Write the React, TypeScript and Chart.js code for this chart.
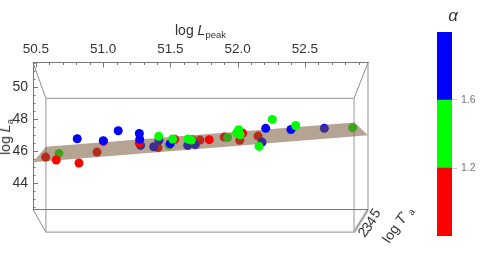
import React, { useEffect, useRef } from "react";
import { Chart, registerables } from "chart.js";

Chart.register(...registerables);

const FONT = '"Liberation Sans", Arial, sans-serif';

const xTickValues = [50.5,50.6,50.7,50.8,50.9,51,51.1,51.2,51.3,51.4,51.5,51.6,51.7,51.8,51.9,52,52.1,52.2,52.3,52.4,52.5,52.6,52.7,52.8,52.9];
const xLabelled = [50.5, 51, 51.5, 52, 52.5];
const yTickValues = [42.5,43,43.5,44,44.5,45,45.5,46,46.5,47,47.5,48,48.5,49,49.5,50,50.5,51,51.5];
const yLabelled = [44, 46, 48, 50];
const depthLabels = ["2", "3", "4", "5"];

const redFront = [[50.651,45.425],[50.82,45.24],[51.269,46.49],[51.532,46.72],[51.789,46.7],[52.038,47.11],[51.002,46.59]];
const redBehind = [[50.572,45.61],[50.954,45.925],[51.408,46.2],[51.663,46.7],[51.72,46.675],[51.901,46.86],[52.016,46.66],[52.152,46.925]];
const greenFront = [[51.413,46.91],[51.517,46.74],[51.631,46.74],[51.656,46.675],[52.008,47.325],[51.993,47.14],[52.018,47.01],[52.159,46.28],[52.258,47.97],[52.432,47.59]];
const greenBehind = [[50.671,45.84],[51.49,46.36],[51.926,46.84],[52.856,47.45]];
const blueFront = [[50.807,46.76],[51.001,46.64],[51.112,47.26],[51.269,47.09],[51.272,46.72],[51.499,46.45],[52.209,47.41],[52.397,47.34]];
const blueBehind = [[51.279,46.34],[51.376,46.26],[51.415,46.66],[51.629,46.34],[51.685,46.39],[52.182,46.55],[52.645,47.41]];

const planeCorners = [[50.478,45.28],[50.574,46.25],[52.87,47.78],[52.97,46.97],[50.478,45.28]];

const xMin = 50.478, xMax = 52.97, yMin = 42.33, yMax = 51.53;
const backL = 50.574, backR = 52.866, backT = 49.28, backB = 40.91;

const backFrame = [[backL,backT],[backR,backT],[backR,backB],[backL,backB],[backL,backT]];
const connectors = [
  [[xMin,yMax],[backL,backT]],
  [[xMax,yMax],[backR,backT]],
  [[xMin,yMin],[backL,backB]],
  [[xMax,yMin],[backR,backB]],
];
const frontBottom = [[xMin,yMin],[xMax,yMin]];
const depthEdgeShade = [[xMax,yMin],[backR,backB]];

const barCategories = ["alpha"];
const alphaBands = [
  { from: 0.8, to: 1.2, color: "#ff0000" },
  { from: 1.2, to: 1.6, color: "#00ff00" },
  { from: 1.6, to: 2.0, color: "#0000ff" },
];
const alphaTicks = [1.2, 1.6];

const toPts = (a: number[][]) => a.map(([x, y]) => ({ x, y }));

const pts = (data: number[][], color: string, order: number) => ({
  type: "scatter" as const,
  data: toPts(data),
  backgroundColor: color,
  borderWidth: 0,
  pointRadius: 4.5,
  order,
  clip: false as const,
});

const wire = (data: number[][], color: string, order: number, width = 1) => ({
  type: "line" as const,
  data: toPts(data),
  borderColor: color,
  borderWidth: width,
  pointRadius: 0,
  fill: false,
  tension: 0,
  order,
  clip: false as const,
});

const inwardTicks = {
  id: "inwardTicks",
  afterDatasetsDraw(chart: any) {
    const { ctx, chartArea, scales } = chart;
    ctx.save();
    ctx.strokeStyle = "#777";
    ctx.lineWidth = 1;
    ctx.beginPath();
    scales.x.ticks.forEach((t: any) => {
      const px = Math.round(scales.x.getPixelForValue(t.value)) + 0.5;
      const len = xLabelled.includes(t.value) ? 5 : 2.5;
      ctx.moveTo(px, chartArea.top);
      ctx.lineTo(px, chartArea.top + len);
    });
    scales.y.ticks.forEach((t: any) => {
      const py = Math.round(scales.y.getPixelForValue(t.value)) + 0.5;
      const len = yLabelled.includes(t.value) ? 5 : 2.5;
      ctx.moveTo(chartArea.left, py);
      ctx.lineTo(chartArea.left + len, py);
    });
    ctx.stroke();
    ctx.restore();
  },
};

const abs = (o: React.CSSProperties): React.CSSProperties => ({
  position: "absolute",
  fontFamily: FONT,
  color: "#333",
  whiteSpace: "nowrap",
  lineHeight: 1,
  ...o,
});

const depthSpots = [[363, 232], [367, 227], [371, 221], [375, 213]];

export default function App() {
  const mainRef = useRef<HTMLCanvasElement>(null);
  const barRef = useRef<HTMLCanvasElement>(null);

  useEffect(() => {
    document.body.style.margin = "0";
    const main = new Chart(mainRef.current!, {
      data: {
        datasets: [
          wire(backFrame, "#a8a8a8", 20, 1.2),
          ...connectors.map((c) => wire(c, "#8c8c8c", 20)),
          wire(depthEdgeShade, "#c8c8c8", 21, 3),
          wire(frontBottom, "#777", 1),
          pts(redBehind, "#ff0000", 12),
          pts(greenBehind, "#00ff00", 11),
          pts(blueBehind, "#0000ff", 10),
          {
            type: "line" as const,
            data: toPts(planeCorners),
            borderWidth: 0,
            pointRadius: 0,
            tension: 0,
            fill: "shape",
            backgroundColor: "rgba(115,83,51,0.53)",
            order: 5,
            clip: false as const,
          },
          pts(redFront, "#ff0000", 4),
          pts(greenFront, "#00ff00", 2),
          pts(blueFront, "#0000ff", 3),
        ],
      } as any,
      options: {
        animation: false,
        responsive: false,
        layout: { padding: { top: 0, left: 0, right: 114, bottom: 56.5 } },
        plugins: { legend: { display: false }, tooltip: { enabled: false } },
        scales: {
          x: {
            type: "linear",
            position: "top",
            min: xMin,
            max: xMax,
            afterBuildTicks: (s: any) => { s.ticks = xTickValues.map((value) => ({ value })); },
            afterFit: (s: any) => { s.height = 62.5; },
            ticks: {
              autoSkip: false,
              maxRotation: 0,
              padding: 5,
              color: "#333",
              font: { family: FONT, size: 13.5 },
              callback: (v: any) => {
                const n = Number(v);
                if (!xLabelled.includes(n)) return "";
                return n === 52 ? "52.0" : n === 51 ? "51.0" : String(n);
              },
            },
            grid: { display: false, drawTicks: false },
            border: { display: true, color: "#777" },
          },
          y: {
            type: "linear",
            position: "left",
            min: yMin,
            max: yMax,
            afterBuildTicks: (s: any) => { s.ticks = yTickValues.map((value) => ({ value })); },
            afterFit: (s: any) => { s.width = 33; },
            ticks: {
              autoSkip: false,
              padding: 5,
              color: "#333",
              font: { family: FONT, size: 14 },
              callback: (v: any) => (yLabelled.includes(Number(v)) ? String(v) : ""),
            },
            grid: { display: false, drawTicks: false },
            border: { display: true, color: "#777" },
          },
        },
      },
      plugins: [
        inwardTicks,
        {
          id: "rightEdge",
          afterDatasetsDraw(chart: any) {
            const { ctx, chartArea } = chart;
            ctx.save();
            ctx.strokeStyle = "#8c8c8c";
            ctx.beginPath();
            ctx.moveTo(chartArea.right, chartArea.top);
            ctx.lineTo(chartArea.right, chartArea.bottom);
            ctx.stroke();
            ctx.restore();
          },
        },
      ],
    } as any);

    const bar = new Chart(barRef.current!, {
      type: "bar",
      data: {
        labels: barCategories,
        datasets: alphaBands.map((b) => ({
          data: [[b.from, b.to]],
          backgroundColor: b.color,
          borderWidth: 0,
          categoryPercentage: 1,
          barPercentage: 1,
          grouped: false,
        })),
      } as any,
      options: {
        animation: false,
        responsive: false,
        layout: { padding: { top: 32, bottom: 30, left: 37, right: 0 } },
        plugins: { legend: { display: false }, tooltip: { enabled: false } },
        scales: {
          x: { display: false },
          y: {
            position: "right",
            min: 0.8,
            max: 2.0,
            afterBuildTicks: (s: any) => { s.ticks = alphaTicks.map((value) => ({ value })); },
            afterFit: (s: any) => { s.width = 30; },
            ticks: {
              padding: 4,
              color: "#777",
              font: { family: FONT, size: 10.5 },
              callback: (v: any) => Number(v).toFixed(1),
            },
            grid: { display: true, drawOnChartArea: false, drawTicks: true, tickLength: 5, tickColor: "#ccc" },
            border: { display: false },
          },
        },
      },
    } as any);

    return () => {
      main.destroy();
      bar.destroy();
    };
  }, []);

  return (
    <div style={{ position: "relative", width: 482, height: 266, overflow: "hidden", background: "#fff" }}>
      <canvas ref={mainRef} width={482} height={266} style={{ position: "absolute", left: 0, top: 0 }} />
      <canvas ref={barRef} width={82} height={266} style={{ position: "absolute", left: 400, top: 0 }} />
      <div style={abs({ left: 175, top: 23, fontSize: 14 })}>
        log <i>L</i><span style={{ fontSize: 9.5, position: "relative", top: 3 }}>peak</span>
      </div>
      <div style={abs({ left: 5, top: 137, fontSize: 14, transform: "translate(-50%,-50%) rotate(-90deg)" })}>
        log <i>L</i><span style={{ fontSize: 9.5, position: "relative", top: 3 }}>a</span>
      </div>
      <div style={abs({ left: 397, top: 224, fontSize: 14, transform: "translate(-50%,-50%) rotate(-55deg)" })}>
        log <i>T</i><span style={{ fontSize: 8, position: "relative", top: -4 }}>*</span>
        <span style={{ fontSize: 9.5, marginLeft: 2, position: "relative", top: 3 }}>a</span>
      </div>
      {depthLabels.map((t, i) => (
        <div key={t} style={abs({ left: depthSpots[i][0], top: depthSpots[i][1], fontSize: 14, transform: "translate(-50%,-50%) rotate(-55deg)" })}>{t}</div>
      ))}
      <div style={abs({ left: 453, top: 15, fontSize: 17, fontStyle: "italic", transform: "translate(-50%,-50%)" })}>α</div>
    </div>
  );
}
